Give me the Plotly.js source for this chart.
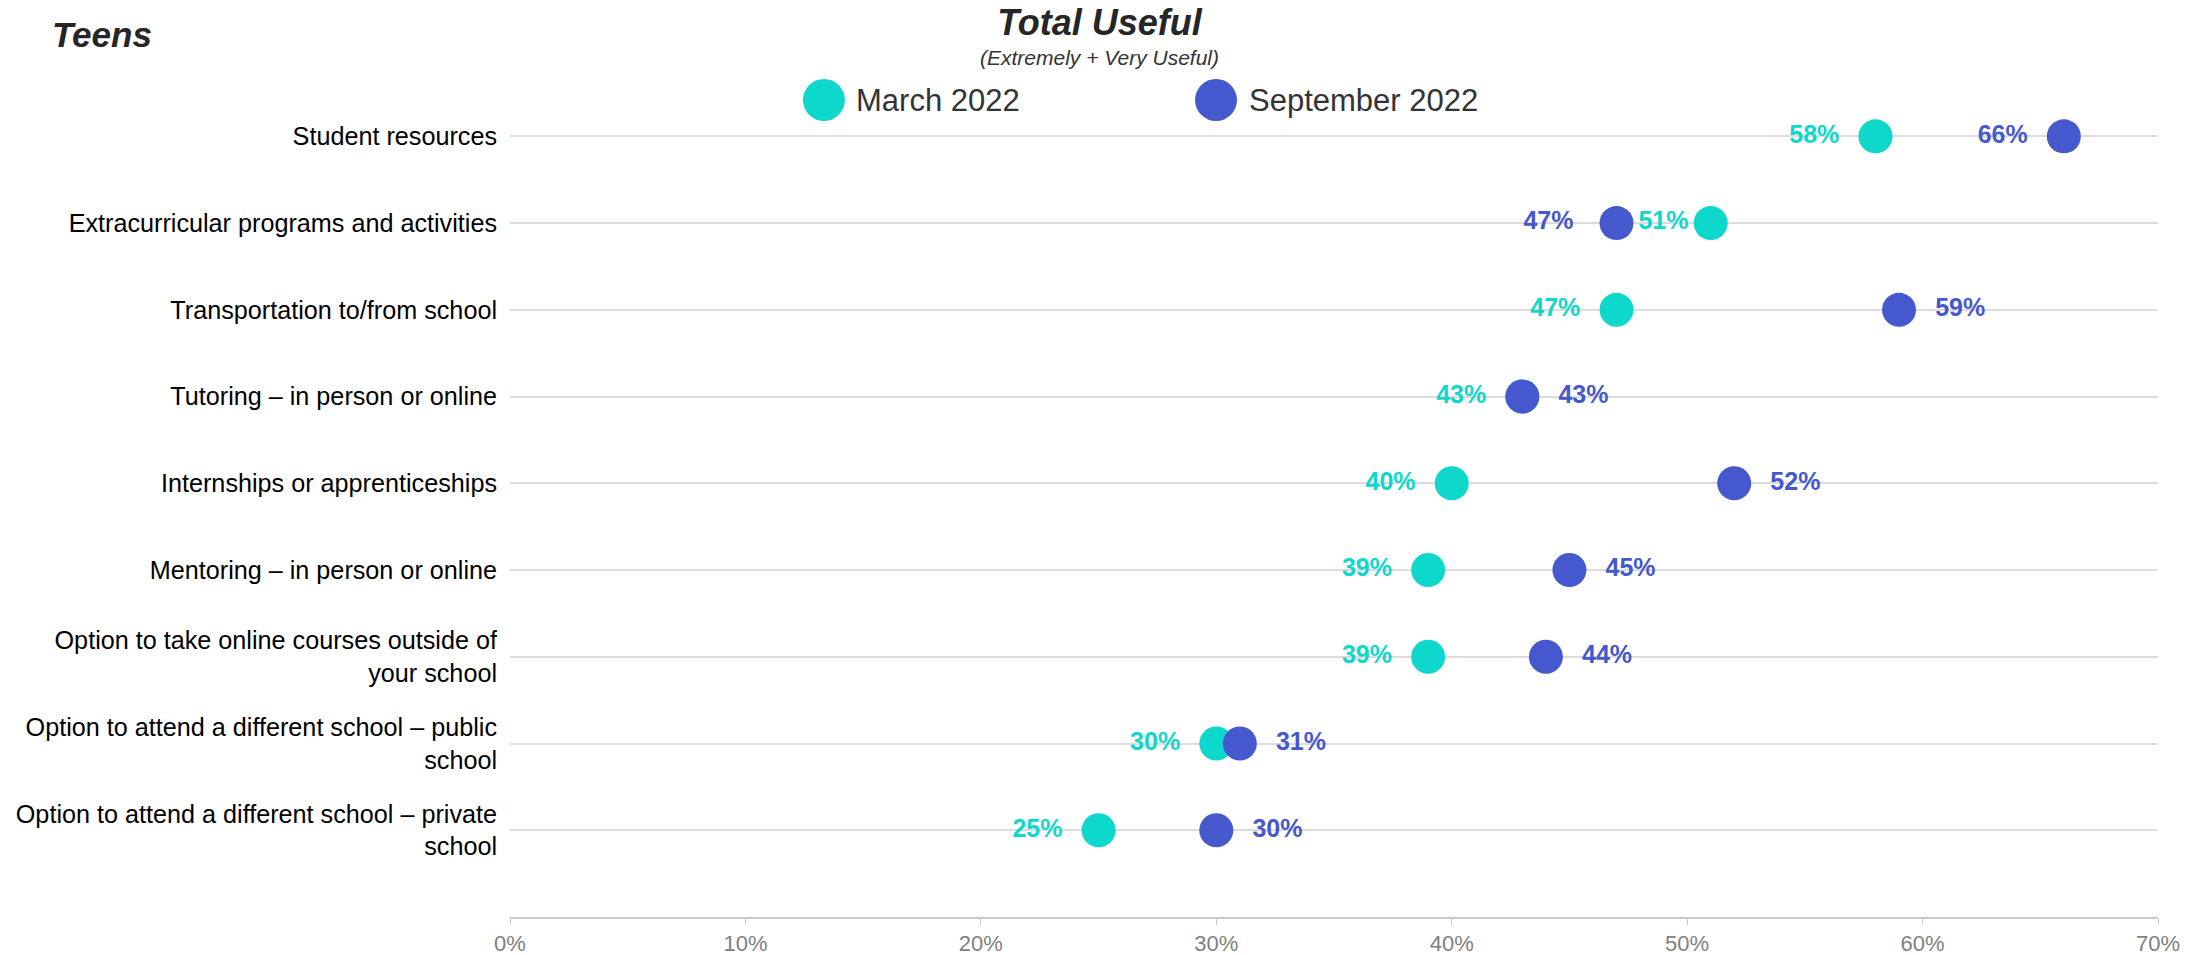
<!DOCTYPE html>
<html>
<head>
<meta charset="utf-8">
<script src="https://cdn.plot.ly/plotly-3.0.1.min.js"></script>
<style>
  html, body { margin: 0; padding: 0; background: #fff; }
  #chart { width: 2210px; height: 955px; }
</style>
</head>
<body>
<div id="chart"></div>
<script>
var categories = [
  "Student resources",
  "Extracurricular programs and activities",
  "Transportation to/from school",
  "Tutoring – in person or online",
  "Internships or apprenticeships",
  "Mentoring – in person or online",
  "Option to take online courses outside of<br>your school",
  "Option to attend a different school – public<br>school",
  "Option to attend a different school – private<br>school"
];
var march2022 = [58, 51, 47, 43, 40, 39, 39, 30, 25];
var september2022 = [66, 47, 59, 43, 52, 45, 44, 31, 30];
var seriesNames = ["March 2022", "September 2022"];
var xTicks = [0, 10, 20, 30, 40, 50, 60, 70];
var xTickLabels = ["0%", "10%", "20%", "30%", "40%", "50%", "60%", "70%"];

var teal = "#0ed8cb";
var blue = "#4658ce";
var font = "Liberation Sans, Arial, sans-serif";

function pad(n) {
    return "\u00a0".repeat(n);
}

// teal labels always sit left of the dot
var marText = [], marPos = [];
var sepText = [], sepPos = [];
for (var i = 0; i < categories.length; i++) {
    var m = march2022[i], s = september2022[i];
    marText.push(m + "%" + pad(m > s ? 0 : 2));
    marPos.push("middle left");
    if (s < m || s > 63) {
        sepText.push(s + "%" + pad(s < m ? 3 : 2));
        sepPos.push("middle left");
    } else {
        sepText.push(pad(2) + s + "%");
        sepPos.push("middle right");
    }
}

var traceMar = {
    x: march2022,
    y: categories,
    type: 'scatter',
    mode: 'markers+text',
    name: seriesNames[0],
    marker: {color: teal, size: 34},
    text: marText,
    textposition: marPos,
    textfont: {family: font, size: 25, color: teal, weight: 'bold'},
    hoverinfo: 'skip'
};

var traceSep = {
    x: september2022,
    y: categories,
    type: 'scatter',
    mode: 'markers+text',
    name: seriesNames[1],
    marker: {color: blue, size: 34},
    text: sepText,
    textposition: sepPos,
    textfont: {family: font, size: 25, color: blue, weight: 'bold'},
    hoverinfo: 'skip'
};

// big legend dots drawn by hand (plotly caps legend marker size)
var legX = [0.1905, 0.4284];
var legTextX = [0.2087, 0.4472];
var legColors = [teal, blue];
var legY = 0.9915;
var shapes = [], annotations = [];
for (var k = 0; k < 2; k++) {
    shapes.push({
        type: 'circle', xref: 'paper', yref: 'paper',
        xsizemode: 'pixel', ysizemode: 'pixel',
        xanchor: legX[k], yanchor: legY,
        x0: -21, x1: 21, y0: -21, y1: 21,
        fillcolor: legColors[k], line: {width: 0}
    });
    annotations.push({
        text: seriesNames[k], xref: 'paper', yref: 'paper',
        x: legTextX[k], y: legY, xanchor: 'left', yanchor: 'middle',
        showarrow: false, font: {family: font, size: 31, color: '#333333'}
    });
}
annotations.push({
    text: '<i>(Extremely + Very Useful)</i>', xref: 'paper', yref: 'paper',
    x: 0.358, y: 1.0425, xanchor: 'center', yanchor: 'middle',
    showarrow: false, font: {family: font, size: 21, color: '#333333'}
});
annotations.push({
    text: '<b><i>Teens</i></b>', xref: 'paper', yref: 'paper',
    x: -0.279, y: 1.0704, xanchor: 'left', yanchor: 'middle',
    showarrow: false, font: {family: font, size: 35, color: '#262626'}
});

var layout = {
    width: 2210,
    height: 955,
    margin: {l: 510, r: 52, t: 93, b: 38},
    paper_bgcolor: '#ffffff',
    plot_bgcolor: '#ffffff',
    showlegend: false,
    font: {family: font, color: '#000000'},
    title: {
        text: '<b><i>Total Useful</i></b>',
        font: {family: font, size: 36, color: '#262626'},
        xref: 'container', x: 0.4975, xanchor: 'center',
        yref: 'container', y: 0.977, yanchor: 'middle'
    },
    xaxis: {
        range: [0, 70],
        tickmode: 'array',
        tickvals: xTicks,
        ticktext: xTickLabels,
        showgrid: false,
        zeroline: false,
        showline: true,
        linecolor: '#c8c8c8',
        linewidth: 2,
        ticks: 'outside',
        ticklen: 6,
        tickcolor: '#c8c8c8',
        tickfont: {family: font, size: 22, color: '#7f7f7f'}
    },
    yaxis: {
        type: 'category',
        categoryorder: 'array',
        categoryarray: categories,
        range: [9, -0.5],
        showgrid: true,
        gridcolor: '#dcdcdc',
        gridwidth: 2,
        zeroline: false,
        showline: false,
        ticks: '',
        ticklabelstandoff: 12,
        tickfont: {family: font, size: 25.2, color: '#000000'}
    },
    shapes: shapes,
    annotations: annotations
};

Plotly.newPlot('chart', [traceMar, traceSep], layout, {displayModeBar: false, staticPlot: true});
</script>
</body>
</html>
